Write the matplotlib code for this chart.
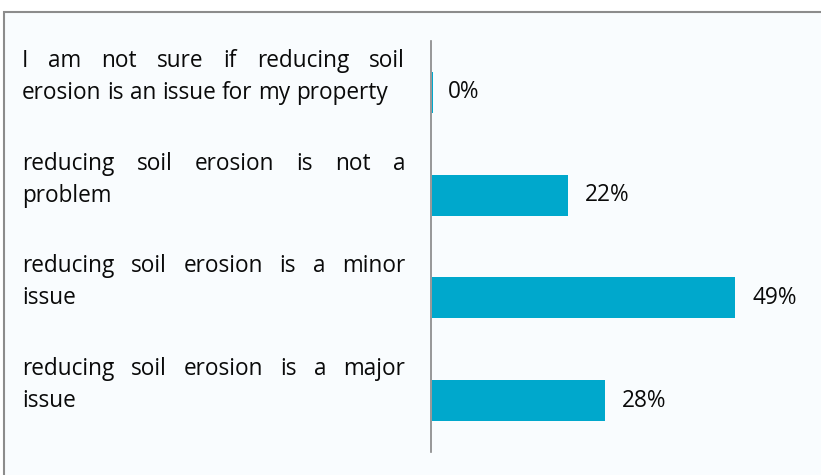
import matplotlib
matplotlib.use('Agg')
import matplotlib.pyplot as plt
from matplotlib.patches import Rectangle
from matplotlib.transforms import IdentityTransform

categories = [
    ['I am not sure if reducing soil', 'erosion is an issue for my property'],
    ['reducing soil erosion is not a', 'problem'],
    ['reducing soil erosion is a minor', 'issue'],
    ['reducing soil erosion is a major', 'issue'],
]
values = [0, 22, 49, 28]
value_labels = ['0%', '22%', '49%', '28%']

W, H = 821, 475
BAR_COLOR = '#00A8CC'
FONT = 'Open Sans'
FS = 16.3
TXT = '#0a0a0a'

fig = plt.figure(figsize=(W / 100, H / 100), dpi=100)
fig.patch.set_facecolor('white')

# panel with grey border on top and left (rest runs off the image)
fig.patches.append(Rectangle((4 / W, -0.1), 1.2, 1 - 12 / H + 0.1,
                             transform=fig.transFigure, facecolor='#F9FCFE',
                             edgecolor='#8C8C8C', linewidth=1.5, zorder=-1))

ax = fig.add_axes([431 / W, 1 - 452 / H, 372 / W, 411 / H])
ax.set_zorder(2)
ax.set_facecolor('none')
y = list(range(len(values)))
# a 0 bar still shows as a thin sliver in the original
shown = [max(v, 0.25) for v in values]
ax.barh(y, shown, height=0.4, left=0.1, color=BAR_COLOR, linewidth=0)
ax.set_xlim(0, 60)
ax.set_ylim(len(values) - 0.5, -0.5)
for s in ['top', 'right', 'bottom']:
    ax.spines[s].set_visible(False)
ax.spines['left'].set_color('#868686')
ax.spines['left'].set_linewidth(1.2)
ax.set_xticks([])
ax.set_yticks([])

for i, (v, lab) in enumerate(zip(values, value_labels)):
    ax.annotate(lab, (v, i), xytext=(12.5, 0), textcoords='offset points',
                va='center', ha='left', fontsize=FS, family=FONT, color=TXT)

# justified category labels drawn word by word
fig.canvas.draw()
renderer = fig.canvas.get_renderer()
left_px, right_px = 22, 405
for i, lines in enumerate(categories):
    yc = ax.transData.transform((0, i))[1]
    baselines = [yc + 25.5, yc - 6.5]
    for j, (line, yb) in enumerate(zip(lines, baselines)):
        words = line.split()
        texts = [fig.text(0, 0, w, transform=IdentityTransform(), fontsize=FS,
                          family=FONT, color=TXT, va='baseline', zorder=3)
                 for w in words]
        widths = [t.get_window_extent(renderer).width for t in texts]
        space = fig.text(0, 0, 'a a', fontsize=FS, family=FONT)
        sw = space.get_window_extent(renderer).width
        a = fig.text(0, 0, 'aa', fontsize=FS, family=FONT)
        sw -= a.get_window_extent(renderer).width
        space.remove()
        a.remove()
        if j == 0 and len(words) > 1:
            gap = (right_px - left_px - sum(widths)) / (len(words) - 1)
        else:
            gap = sw
        x = left_px
        for t, w in zip(texts, widths):
            t.set_position((x, yb))
            x += w + gap

fig.savefig('out.png', dpi=100)
